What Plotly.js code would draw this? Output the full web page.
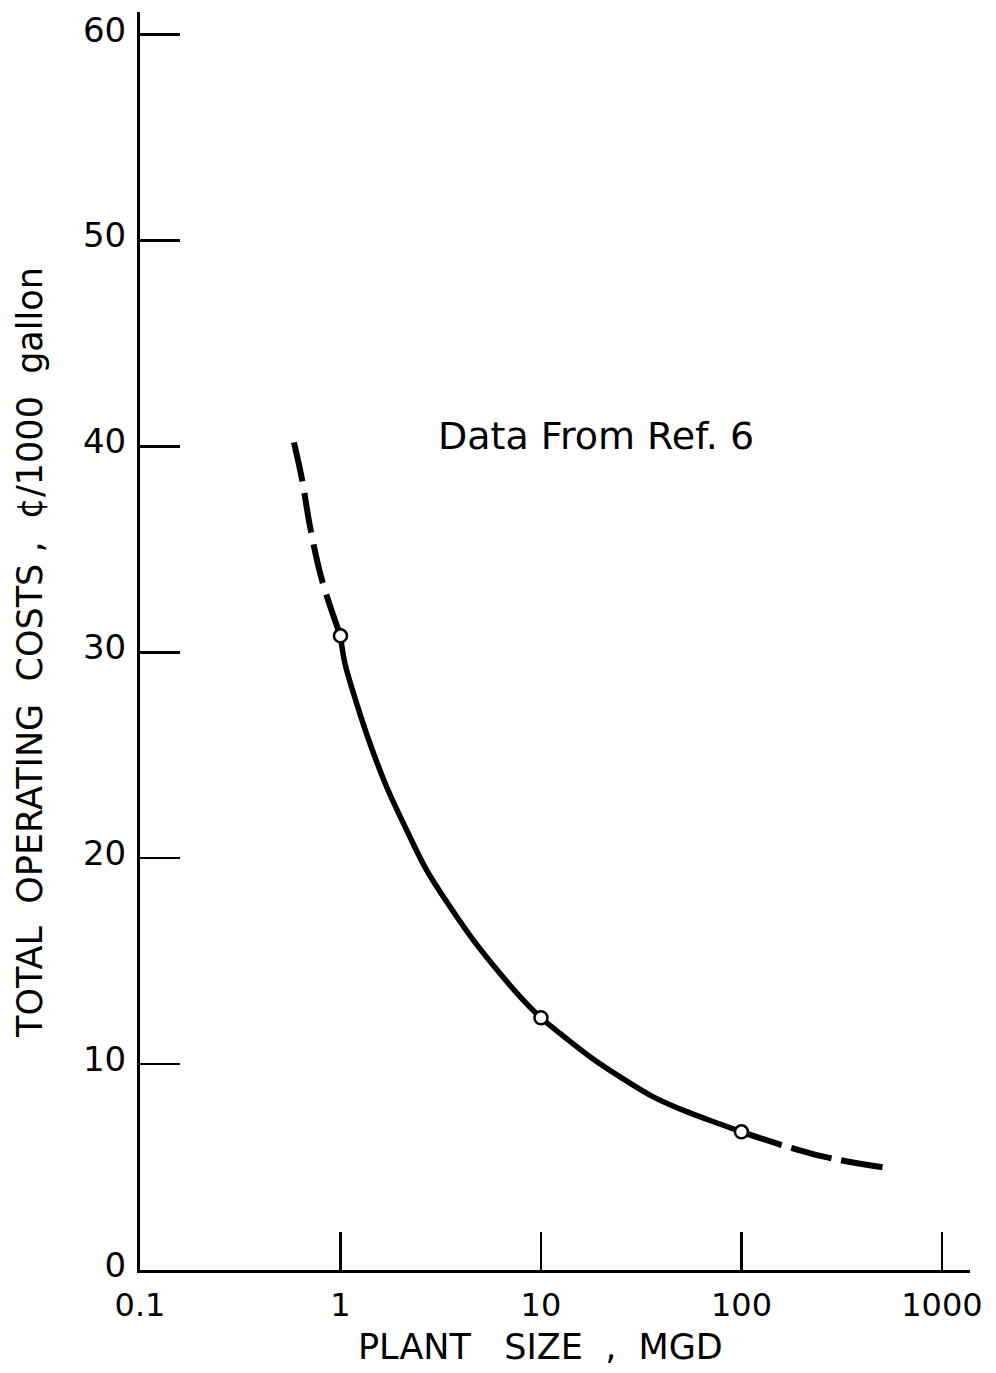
<!DOCTYPE html>
<html>
<head>
<meta charset="utf-8">
<script src="https://cdn.plot.ly/plotly-3.0.1.min.js"></script>
<style>html,body{margin:0;padding:0;background:#fff;}#chart{width:996px;height:1373px;}</style>
</head>
<body>
<div id="chart"></div>
<script>
// Extrapolated (dashed) low-capacity segment
const lowExtrapSize = [0.586, 0.643, 0.705, 0.809, 1];
const lowExtrapCost = [40.2, 38.4, 36.1, 33.5, 30.8];
// Fitted solid curve
const curveSize = [1, 1.053, 1.205, 1.403, 1.70, 2.14, 2.69, 3.52, 4.60, 6.25, 8.16, 10, 12.44, 17.55, 24.8, 36.3, 53.3, 78.1, 100];
const curveCost = [30.8, 29.45, 27.51, 25.57, 23.46, 21.36, 19.42, 17.64, 16.02, 14.40, 13.11, 12.25, 11.49, 10.36, 9.38, 8.41, 7.69, 7.09, 6.71];
// Extrapolated (dashed) high-capacity segment
const highExtrapSize = [100, 238, 538];
const highExtrapCost = [6.71, 5.58, 4.95];
// Data points (Ref. 6)
const pointSize = [1, 10, 100];
const pointCost = [30.8, 12.25, 6.71];
// Tick labels
const xTickVals = [0.1, 1, 10, 100, 1000];
const xTickText = ["0.1", "1", "10", "100", "1000"];
const yTickVals = [0, 10, 20, 30, 40, 50, 60];
const yTickText = ["0", "10", "20", "30", "40", "50", "60"];
// Texts
const xTitle = "PLANT   SIZE  ,  MGD";
const yTitle = "TOTAL  OPERATING  COSTS ,  ¢/1000  gallon";
const note = "Data From Ref. 6";

const FONT = "DejaVu Sans, Liberation Sans, sans-serif";

const traces = [
  {x: lowExtrapSize, y: lowExtrapCost, mode: "lines", type: "scatter",
   line: {color: "#000", width: 6, dash: "40px,12px", shape: "spline"}, hoverinfo: "skip"},
  {x: curveSize, y: curveCost, mode: "lines", type: "scatter",
   line: {color: "#000", width: 5.5, shape: "spline", smoothing: 1}, hoverinfo: "skip"},
  {x: highExtrapSize, y: highExtrapCost, mode: "lines", type: "scatter",
   line: {color: "#000", width: 6, dash: "42px,10px", shape: "spline"}, hoverinfo: "skip"},
  {x: pointSize, y: pointCost, mode: "markers", type: "scatter",
   marker: {symbol: "circle", size: 13, color: "#fff", line: {color: "#000", width: 2.5}}}
];

const layout = {
  width: 996, height: 1373,
  margin: {l: 140, r: 26, t: 12, b: 103},
  paper_bgcolor: "#fff", plot_bgcolor: "#fff",
  showlegend: false,
  font: {family: FONT, color: "#000"},
  xaxis: {
    type: "log", range: [-1, 3.14],
    tickvals: xTickVals, ticktext: xTickText,
    ticks: "inside", ticklen: 38, tickwidth: 2.5, tickcolor: "#000",
    showline: true, linecolor: "#000", linewidth: 3,
    showgrid: false, zeroline: false,
    tickfont: {family: FONT, size: 32, color: "#000"},
    ticklabelstandoff: 5
  },
  yaxis: {
    range: [0, 61.1],
    tickvals: yTickVals, ticktext: yTickText,
    ticks: "inside", ticklen: 40, tickwidth: 2.5, tickcolor: "#000",
    showline: true, linecolor: "#000", linewidth: 3,
    showgrid: false, zeroline: false,
    tickfont: {family: FONT, size: 34, color: "#000"},
    ticklabelstandoff: 4,
    ticklabelshift: -5
  },
  annotations: [
    {xref: "paper", yref: "paper", x: 0.549, y: 0.663, xanchor: "center", yanchor: "middle",
     text: note, showarrow: false, font: {family: FONT, size: 38, color: "#000"}},
    {xref: "paper", yref: "paper", x: 0.482, y: -0.0612, xanchor: "center", yanchor: "middle",
     text: xTitle, showarrow: false, font: {family: FONT, size: 35, color: "#000"}},
    {xref: "paper", yref: "paper", x: -0.1325, y: 0.4905, xanchor: "center", yanchor: "middle",
     textangle: -90, text: yTitle, showarrow: false, font: {family: FONT, size: 35, color: "#000"}}
  ]
};

Plotly.newPlot("chart", traces, layout, {staticPlot: true, displayModeBar: false});
</script>
</body>
</html>
